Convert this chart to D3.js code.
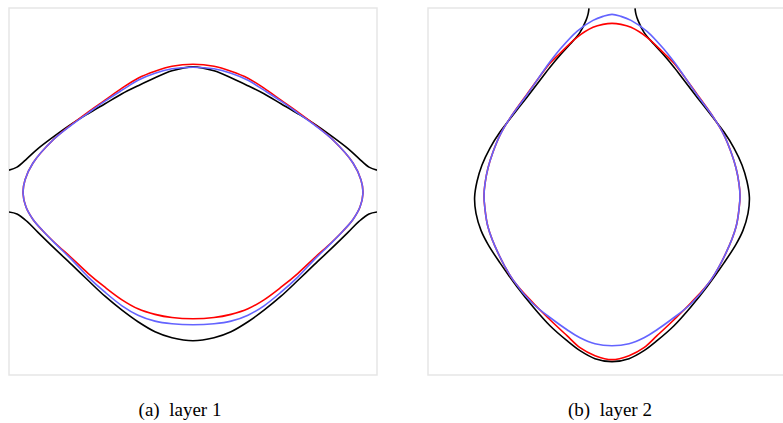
<!DOCTYPE html>
<html>
<head>
<meta charset="utf-8">
<script src="https://cdn.jsdelivr.net/npm/d3@7"></script>
<style>
  body { margin: 0; background: #fff; }
  svg { display: block; }
</style>
</head>
<body>
<svg id="theSVG"></svg>
<script>
// curve points, in panel units (x and y both -92..92, y up)

// layer 1
var blackUpperA = [[-92,10.7],[-88,12.2],[-83,16.5],[-77.5,21.5],[-69,28],[-60.5,34],[-52.5,39],[-44,44],[-35.5,49],[-27.5,53],[-19,57],[-10.5,60.5],[0,62.5],
                   [10.5,60.5],[19,57],[27.5,53],[35.5,49],[44,44],[52.5,39],[60.5,34],[69,28],[77.5,21.5],[83,16.5],[88,12.2],[92,10.7]];
var blackLowerA = [[-92,-10.3],[-88,-11.3],[-83,-15],[-77.5,-20.5],[-69,-28.8],[-60.5,-36.8],[-52.5,-44.5],[-44,-52.5],[-35.5,-59.5],[-27.5,-65.3],[-19,-70.3],[-10.5,-73.3],[0,-74.8],
                   [10.5,-73.3],[19,-70.3],[27.5,-65.3],[35.5,-59.5],[44,-52.5],[52.5,-44.5],[60.5,-36.8],[69,-28.8],[77.5,-20.5],[83,-15],[88,-11.3],[92,-10.3]];
var redA = [[0,63.8],[-10.5,62.8],[-19,60.3],[-27.5,56.8],[-35.5,51.8],[-44,45.8],[-52.5,39.8],[-60.5,33.8],[-70,25.8],[-80,14.3],[-84,5.8],[-85,-0.8],
            [-83.5,-7.8],[-80,-14],[-75,-19.8],[-69,-25.8],[-60.5,-33.5],[-52.5,-41],[-44,-48],[-35.5,-54.3],[-27.5,-58.8],[-19,-61.6],[-10.5,-63.2],[0,-63.8],
            [10.5,-63.2],[19,-61.6],[27.5,-58.8],[35.5,-54.3],[44,-48],[52.5,-41],[60.5,-33.5],[69,-25.8],[75,-19.8],[80,-14],[83.5,-7.8],
            [85,-0.8],[84,5.8],[80,14.3],[70,25.8],[60.5,33.8],[52.5,39.8],[44,45.8],[35.5,51.8],[27.5,56.8],[19,60.3],[10.5,62.8]];
var blueA = [[0,62.3],[-10.5,61.5],[-19,59.3],[-27.5,55.8],[-35.5,50.8],[-44,45.3],[-52.5,39.3],[-60.5,33.5],[-70,25.8],[-80,14.3],[-84,5.8],[-85,-0.8],
             [-83.5,-7.8],[-80,-14],[-75,-19.8],[-69,-26],[-60.5,-34.3],[-52.5,-42.8],[-44,-50.5],[-35.5,-57.3],[-27.5,-62],[-19,-65],[-10.5,-66.3],[0,-66.8],
             [10.5,-66.3],[19,-65],[27.5,-62],[35.5,-57.3],[44,-50.5],[52.5,-42.8],[60.5,-34.3],[69,-26],[75,-19.8],[80,-14],[83.5,-7.8],
             [85,-0.8],[84,5.8],[80,14.3],[70,25.8],[60.5,33.5],[52.5,39.3],[44,45.3],[35.5,50.8],[27.5,55.8],[19,59.3],[10.5,61.5]];

// layer 2
var blackB = [[-11.5,91.8],[-12,88.8],[-13,85.8],[-16,79.8],[-21,73.8],[-26,68.3],[-31,62.3],[-36,55.8],[-42.5,47.3],[-49.5,38.3],[-56,29.8],[-61,21.8],[-65,13.3],[-67.5,5],
              [-68.7,-3],[-68,-11],[-65.5,-19.5],[-62,-26.5],[-56,-35.8],[-47.5,-47.8],[-39.5,-57.8],[-31,-67.3],[-22.5,-74.8],[-16,-79.8],[-8.5,-83.8],[0,-85.3],
              [8.5,-83.8],[16,-79.8],[22.5,-74.8],[31,-67.3],[39.5,-57.8],[47.5,-47.8],[56,-35.8],[62,-26.5],[65.5,-19.5],[68,-11],[68.7,-3],
              [67.5,5],[65,13.3],[61,21.8],[56,29.8],[49.5,38.3],[42.5,47.3],[36,55.8],[31,62.3],[26,68.3],[21,73.8],[16,79.8],[13,85.8],[12,88.8],[11.5,91.8]];
var redB = [[0,84.3],[-4.5,83.8],[-9.5,82.3],[-17.5,77.3],[-26,69.3],[-31,64.3],[-42.5,48.8],[-51,36.8],[-56,28.3],[-59.5,19.8],[-62,11.8],[-63.5,4],[-64,-2],
            [-63.6,-8],[-62,-17.8],[-57,-30.8],[-49.5,-44.3],[-39.5,-55.8],[-31,-64.3],[-22.5,-72.3],[-16,-78.3],[-8.5,-82.3],[0,-84.3],
            [8.5,-82.3],[16,-78.3],[22.5,-72.3],[31,-64.3],[39.5,-55.8],[49.5,-44.3],[57,-30.8],[62,-17.8],[63.6,-8],
            [64,-2],[63.5,4],[62,11.8],[59.5,19.8],[56,28.3],[51,36.8],[42.5,48.8],[31,64.3],[26,69.3],[17.5,77.3],[9.5,82.3],[4.5,83.8]];
var blueB = [[0,88.8],[-4.5,87.8],[-9.5,85.8],[-17.5,80.3],[-26,71.3],[-31,65],[-42.5,48.5],[-51,36.8],[-56,28.3],[-59.5,19.8],[-62,11.8],[-63.5,4],[-64,-2],
             [-63.6,-8],[-62,-17.8],[-57,-30.8],[-49.5,-44.3],[-39.5,-56.3],[-29.5,-64.3],[-22.5,-69.3],[-16,-73.3],[-8.5,-76.3],[0,-77.3],
             [8.5,-76.3],[16,-73.3],[22.5,-69.3],[29.5,-64.3],[39.5,-56.3],[49.5,-44.3],[57,-30.8],[62,-17.8],[63.6,-8],
             [64,-2],[63.5,4],[62,11.8],[59.5,19.8],[56,28.3],[51,36.8],[42.5,48.5],[31,65],[26,71.3],[17.5,80.3],[9.5,85.8],[4.5,87.8]];

var captions = ["(a)\u2002layer 1", "(b)\u2002layer 2"];

var W = 783, H = 423;
var svg = d3.select("#theSVG").attr("width", W).attr("height", H);
svg.append("rect").attr("width", W).attr("height", H).attr("fill", "#fff");

var panels = [
    {left: 9,   lines: [[blackUpperA, false, "#000"], [blackLowerA, false, "#000"], [redA, true, "#ff0000"], [blueA, true, "#6464ff"]], cap: captions[0], capX: 180},
    {left: 428, lines: [[blackB, false, "#000"], [redB, true, "#ff0000"], [blueB, true, "#6464ff"]], cap: captions[1], capX: 610}
];
var pSize = 368, pHeight = 367, pTop = 8;

panels.forEach(function(p, i){
    var x = d3.scaleLinear().domain([-92, 92]).range([p.left, p.left + pSize]);
    var y = d3.scaleLinear().domain([-92, 92]).range([pTop + pHeight, pTop]);

    svg.append("clipPath").attr("id", "clip" + i)
	.append("rect")
	.attr("x", p.left).attr("y", pTop)
	.attr("width", pSize).attr("height", pHeight);

    svg.append("rect")
	.attr("x", p.left).attr("y", pTop)
	.attr("width", pSize).attr("height", pHeight)
	.attr("fill", "none")
	.attr("stroke", "#e6e6e6")
	.attr("stroke-width", 1.5);

    var g = svg.append("g").attr("clip-path", "url(#clip" + i + ")");
    p.lines.forEach(function(l){
	var line = d3.line()
	    .x(function(d){ return x(d[0]); })
	    .y(function(d){ return y(d[1]); })
	    .curve(l[1] ? d3.curveCatmullRomClosed : d3.curveCatmullRom);
	g.append("path")
	    .attr("d", line(l[0]))
	    .attr("fill", "none")
	    .attr("stroke", l[2])
	    .attr("stroke-width", 1.6);
    });

    svg.append("text")
	.attr("x", p.capX)
	.attr("y", 416)
	.attr("text-anchor", "middle")
	.style("font-family", "'Liberation Serif', 'DejaVu Serif', serif")
	.style("font-size", "19px")
	.text(p.cap);
});
</script>
</body>
</html>
